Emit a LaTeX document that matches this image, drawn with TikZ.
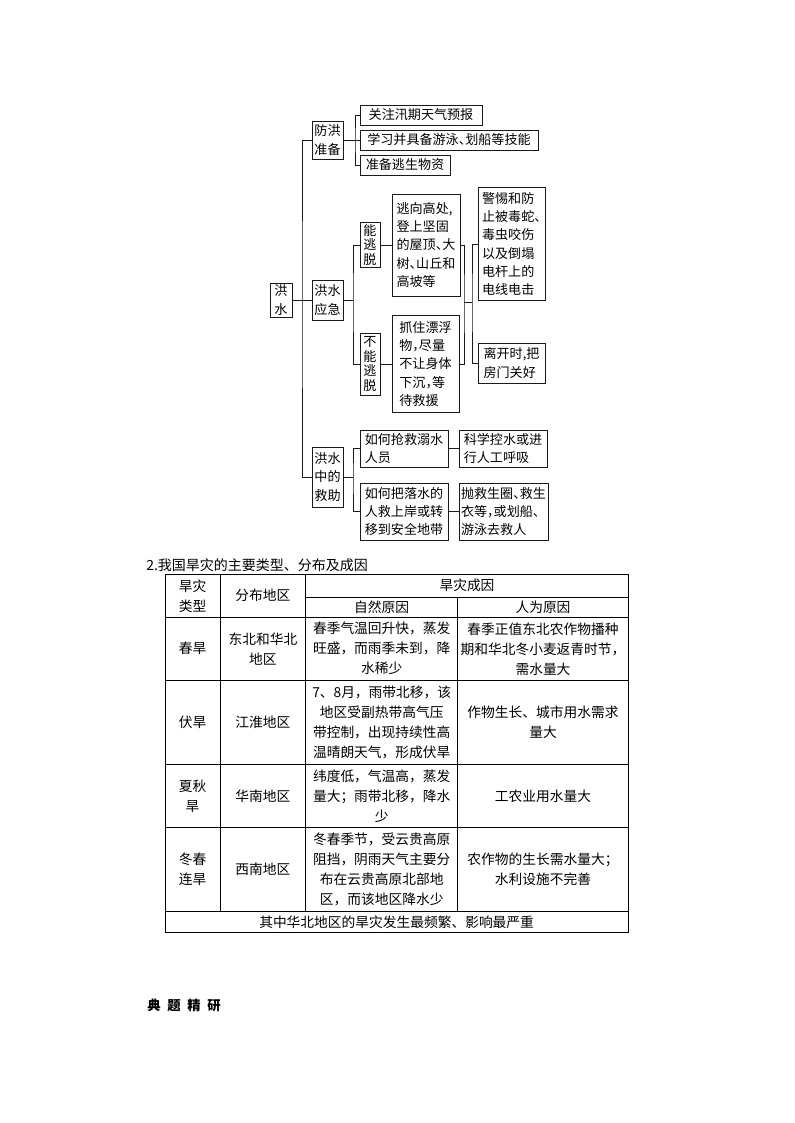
\documentclass[tikz,border=0pt]{standalone}
\usepackage{fontspec}
\setmainfont{Noto Sans CJK SC}
\newfontfamily\diagfont[RawFeature=+halt]{Noto Sans CJK SC}
\usepackage{xcolor}
\definecolor{inkline}{HTML}{1A1A1A}

\tikzset{
  box/.style={draw=inkline,line width=0.6pt,inner sep=1pt,align=left,
              font=\diagfont\fontsize{9.8}{13.7}\selectfont},
  vbox/.style={box,font=\diagfont\fontsize{9.8}{10.8}\selectfont},
  link/.style={draw=inkline,line width=0.6pt},
  grid/.style={draw=black,line width=0.7pt},
  cell/.style={align=center,inner sep=0pt,font=\fontsize{10.3}{15}\selectfont}
}

\begin{document}
\begin{tikzpicture}[x=0.75pt,y=-0.75pt]
    \fill[white] (0,0) rectangle (794,1123);
    \useasboundingbox (0,0) rectangle (794,1123);
    % flood tree
    \node[box,minimum width=16.5pt,minimum height=25.5pt] (hongshui) at (281,300) {洪\\水};
    \node[box,minimum width=23.25pt,minimum height=28.5pt] (fangh) at (327.5,140) {防洪\\准备};
    \node[box,minimum width=23.25pt,minimum height=30pt] (yingji) at (327.5,300) {洪水\\应急};
    \node[box,minimum width=23.25pt,minimum height=45pt] (jiuzhu) at (327.5,477) {洪水\\中的\\救助};
    \node[box,minimum width=91.5pt,minimum height=15pt] (f1) at (421,115) {关注汛期天气预报};
    \node[box,minimum width=133.5pt,minimum height=15pt] (f2) at (449,140) {学习并具备游泳、划船等技能};
    \node[box,minimum width=67.5pt,minimum height=15pt] (f3) at (405,165) {准备逃生物资};
    \node[vbox,minimum width=15pt,minimum height=33.75pt] (neng) at (370,245) {能\\逃\\脱};
    \node[vbox,minimum width=15pt,minimum height=46.5pt] (buneng) at (370,364) {不\\能\\逃\\脱};
    \node[box,minimum width=51pt,minimum height=76.5pt] (tao) at (426,245)
      {逃向高处,\\登上坚固\\的屋顶、大\\树、山丘和\\高坡等};
    \node[box,minimum width=50.25pt,minimum height=72.75pt] (zhua) at (425.5,364)
      {抓住漂浮\\物，尽量\\不让身体\\下沉，等\\待救援};
    \node[box,minimum width=50.25pt,minimum height=84.75pt] (jing) at (511.5,244)
      {警惕和防\\止被毒蛇、\\毒虫咬伤\\以及倒塌\\电杆上的\\电线电击};
    \node[box,minimum width=50.25pt,minimum height=30pt] (likai) at (511.5,363) {离开时,把\\房门关好};
    \node[box,minimum width=66pt,minimum height=27.75pt] (r1) at (404,448.5) {如何抢救溺水\\人员};
    \node[box,minimum width=66pt,minimum height=27.75pt] (r2) at (503,448.5) {科学控水或进\\行人工呼吸};
    \node[box,minimum width=66pt,minimum height=42.75pt] (r3) at (404,511.5)
      {如何把落水的\\人救上岸或转\\移到安全地带};
    \node[box,minimum width=66.75pt,minimum height=42.75pt] (r4) at (503.5,511.5)
      {抛救生圈、救生\\衣等，或划船、\\游泳去救人};
    % bracket joints
    \coordinate (trunk) at (302,300);
    \coordinate (fb) at (355,140);
    \coordinate (yb) at (353,300);
    \coordinate (jb) at (353,477);
    \coordinate (lb) at (464,302);
    \coordinate (rb) at (472,302);
    \draw[link] (fangh.west) -| (trunk) |- (jiuzhu.west);
    \draw[link] (hongshui) -- (yingji);
    \draw[link] (fangh) -- (f2);
    \draw[link] (f1.west) -| (fb) |- (f3.west);
    \draw[link] (yingji) -- (yb);
    \draw[link] (neng.west) -| (yb) |- (buneng.west);
    \draw[link] (neng) -- (tao);
    \draw[link] (buneng) -- (zhua);
    \draw[link] (tao.east) -| (lb) |- (zhua.east);
    \draw[link] (jing.west) -| (rb) |- (likai.west);
    \draw[link] (lb) -- (rb);
    \draw[link] (jiuzhu) -- (jb);
    \draw[link] (r1.west) -| (jb) |- (r3.west);
    \draw[link] (r1) -- (r2);
    \draw[link] (r3) -- (r4);
    % drought table
    \node[anchor=west,inner sep=0pt,font=\fontsize{10.5}{12}\selectfont] (title) at (146,565)
      {2.我国旱灾的主要类型、分布及成因};
    \draw[grid] (165,574.5) rectangle (628.3,932.7);
    \foreach \ry in {617,680.5,764.5,827.3,911.7}
      \draw[grid] (165,\ry) -- (628.3,\ry);
    \draw[grid] (305.7,597) -- (628.3,597);
    \draw[grid] (220,574.5) -- (220,911.7);
    \draw[grid] (305.7,574.5) -- (305.7,911.7);
    \draw[grid] (457.7,597) -- (457.7,911.7);
    \node[cell] (hType) at (192.5,595.75) {旱灾\\类型};
    \node[cell] (hArea) at (262.9,595.75) {分布地区};
    \node[cell] (hCause) at (467,585.75) {旱灾成因};
    \node[cell] (hNat) at (381.7,607) {自然原因};
    \node[cell] (hHum) at (543,607) {人为原因};
    \node[cell] (t1) at (192.5,648.75) {春旱};
    \node[cell] (a1) at (262.9,648.75) {东北和华北\\地区};
    \node[cell] (n1) at (381.7,648.75) {春季气温回升快，蒸发\\旺盛，而雨季未到，降\\水稀少};
    \node[cell] (m1) at (543,648.75) {春季正值东北农作物播种\\期和华北冬小麦返青时节，\\需水量大};
    \node[cell] (t2) at (192.5,722.5) {伏旱};
    \node[cell] (a2) at (262.9,722.5) {江淮地区};
    \node[cell] (n2) at (381.7,722.5) {7、8月，雨带北移，该\\地区受副热带高气压\\带控制，出现持续性高\\温晴朗天气，形成伏旱};
    \node[cell] (m2) at (543,722.5) {作物生长、城市用水需求\\量大};
    \node[cell] (t3) at (192.5,795.9) {夏秋\\旱};
    \node[cell] (a3) at (262.9,795.9) {华南地区};
    \node[cell] (n3) at (381.7,795.9) {纬度低，气温高，蒸发\\量大；雨带北移，降水\\少};
    \node[cell] (m3) at (543,795.9) {工农业用水量大};
    \node[cell] (t4) at (192.5,869.5) {冬春\\连旱};
    \node[cell] (a4) at (262.9,869.5) {西南地区};
    \node[cell] (n4) at (381.7,869.5) {冬春季节，受云贵高原\\阻挡，阴雨天气主要分\\布在云贵高原北部地\\区，而该地区降水少};
    \node[cell] (m4) at (543,869.5) {农作物的生长需水量大；\\水利设施不完善};
    \node[cell] (note) at (396.6,922.2) {其中华北地区的旱灾发生最频繁、影响最严重};
    % section heading
    \node[anchor=west,inner sep=0pt,font=\bfseries\fontsize{10}{12}\selectfont] (jingyan) at (147,1005)
      {典\hspace{5pt}题\hspace{5pt}精\hspace{5pt}研};
\end{tikzpicture}
\end{document}
